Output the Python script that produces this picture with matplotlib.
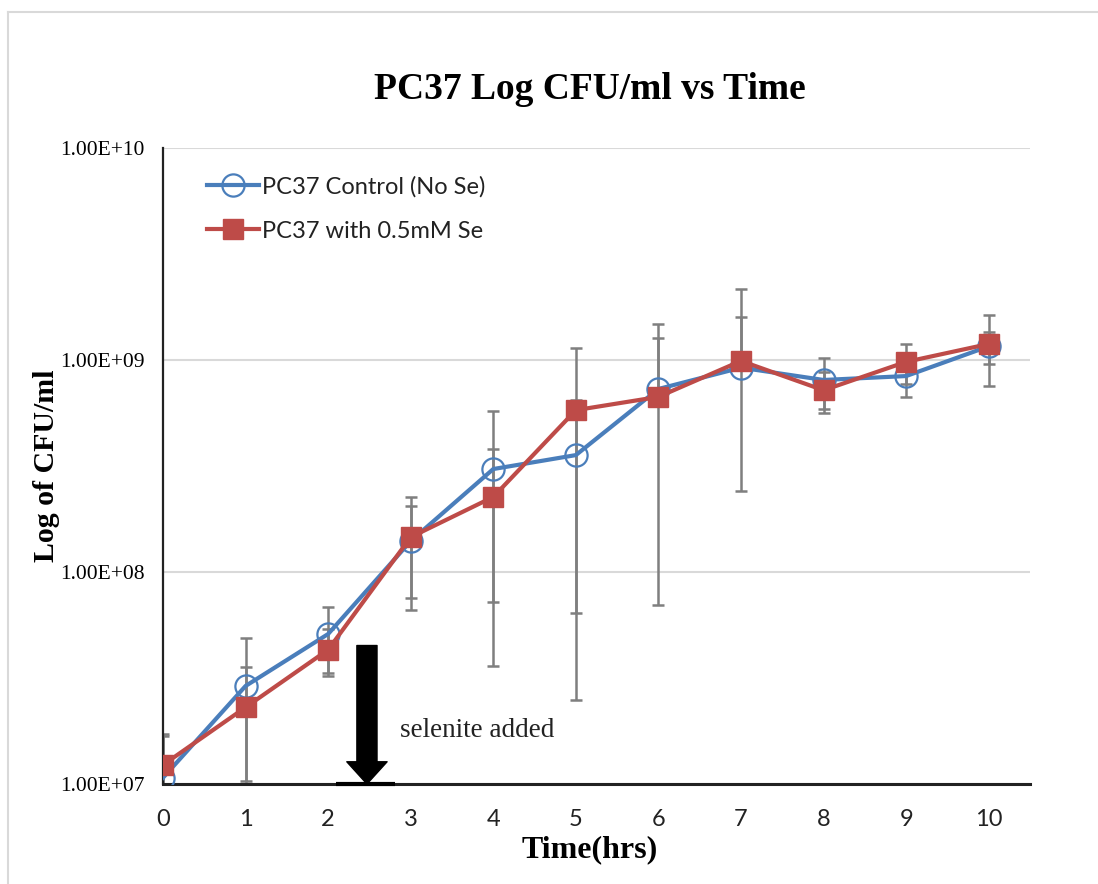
import numpy as np
import matplotlib.pyplot as plt
from matplotlib.ticker import FuncFormatter, NullLocator
from matplotlib.lines import Line2D

### values (CFU/ml, symmetric error bars)
hours = [0, 1, 2, 3, 4, 5, 6, 7, 8, 9, 10]
control = [1.07e7, 2.9e7, 5.1e7, 1.4e8, 3.06e8, 3.56e8, 7.3e8, 9.2e8, 8.05e8, 8.4e8, 1.16e9]
control_err = [0.65e7, 1.99e7, 1.75e7, 0.65e8, 2.7e8, 2.92e8, 0.75e9, 0.68e9, 0.22e9, 0.17e9, 0.2e9]
selenium = [1.23e7, 2.3e7, 4.3e7, 1.46e8, 2.26e8, 5.8e8, 6.7e8, 9.9e8, 7.2e8, 9.8e8, 1.19e9]
selenium_err = [0.45e7, 1.27e7, 1.08e7, 0.8e8, 1.54e8, 0.555e9, 0.6e9, 1.17e9, 0.16e9, 0.21e9, 0.44e9]
yticks = [1e7, 1e8, 1e9, 1e10]

serif = 'Liberation Serif'
sans = 'Lato'
blue = '#4a7ebb'
red = '#be4b48'
grey = '#7f7f7f'

fig = plt.figure(figsize=(10.98, 8.84), dpi=100)
ax = fig.add_axes([163/1098, 1-784/884, (1030-163)/1098, (784-148)/884])

# outer chart border (only top/left show in the crop)
fig.add_artist(Line2D([8/1098, 8/1098], [0, 1-12/884], color='#d9d9d9', lw=1.5))
fig.add_artist(Line2D([8/1098, 1], [1-12/884, 1-12/884], color='#d9d9d9', lw=1.5))


def lower_err(vals, errs):
    # Excel leaves out a lower bar that would go below zero
    vals = np.array(vals)
    errs = np.array(errs)
    return np.where(vals - errs > 0, errs, 0)


ax.errorbar(hours, control, yerr=[lower_err(control, control_err), control_err],
            fmt='none', ecolor=grey, elinewidth=1.8, capsize=4.5, capthick=1.8, zorder=2)
ax.errorbar(hours, selenium, yerr=[lower_err(selenium, selenium_err), selenium_err],
            fmt='none', ecolor=grey, elinewidth=1.8, capsize=4.5, capthick=1.8, zorder=2)

ax.plot(hours, control, color=blue, lw=3, marker='o', ms=16, mfc='none', mec=blue,
        mew=1.6, label='PC37 Control (No Se)', zorder=3)
ax.plot(hours, selenium, color=red, lw=3, marker='s', ms=14.5, mfc=red, mec=red,
        label='PC37 with 0.5mM Se', zorder=4)

ax.set_yscale('log')
ax.set_ylim(1e7, 1e10)
ax.set_xlim(0, 10.5)
ax.set_yticks(yticks)
ax.yaxis.set_minor_locator(NullLocator())
ax.yaxis.set_major_formatter(FuncFormatter(lambda v, p: '%.2E' % v))
ax.set_xticks(hours)
ax.tick_params(axis='y', length=0, pad=13, labelsize=15.5)
ax.tick_params(axis='x', length=0, pad=18, labelsize=17)
for t in ax.get_yticklabels():
    t.set_fontfamily(serif)
for t in ax.get_xticklabels():
    t.set_fontfamily(sans)
    t.set_color('#222222')

ax.grid(axis='y', color='#d9d9d9', lw=1.5)
ax.set_axisbelow(True)
for s in ['top', 'right']:
    ax.spines[s].set_visible(False)
ax.spines['left'].set_linewidth(1.6)
ax.spines['left'].set_color('#222222')
ax.spines['bottom'].set_linewidth(2.2)
ax.spines['bottom'].set_color('#222222')

# Excel centres title and x label on the chart area, a bit left of the plot centre
ax.set_title('PC37 Log CFU/ml vs Time', fontfamily=serif, fontweight='bold',
             fontsize=27, pad=35, x=0.4925)
ax.set_ylabel('Log of CFU/ml', fontfamily=serif, fontweight='bold', fontsize=21.5, labelpad=0)
ax.set_xlabel('Time(hrs)', fontfamily=serif, fontweight='bold', fontsize=23, labelpad=4)
ax.xaxis.label.set_x(0.4925)

leg = ax.legend(loc='upper left', bbox_to_anchor=(0.026, 0.99), frameon=False,
                prop={'family': sans, 'size': 17}, handlelength=2.2,
                labelspacing=1.0, handletextpad=0.15)
for txt in leg.get_texts():
    txt.set_color('#222222')

# selenite arrow
ax.annotate('', xy=(2.47, 1e7), xytext=(2.47, 4.5e7),
            arrowprops=dict(arrowstyle='simple,head_width=2.9,head_length=1.6,tail_width=1.45',
                            color='black', mutation_scale=10, shrinkA=0, shrinkB=0))
ax.plot([2.1, 2.81], [1e7, 1e7], color='black', lw=3, solid_capstyle='butt', clip_on=False, zorder=5)
ax.text(2.87, 1.78e7, 'selenite added', fontfamily=serif, fontsize=19.5, va='center', color='#222222')

fig.savefig('out.png', dpi=100)
